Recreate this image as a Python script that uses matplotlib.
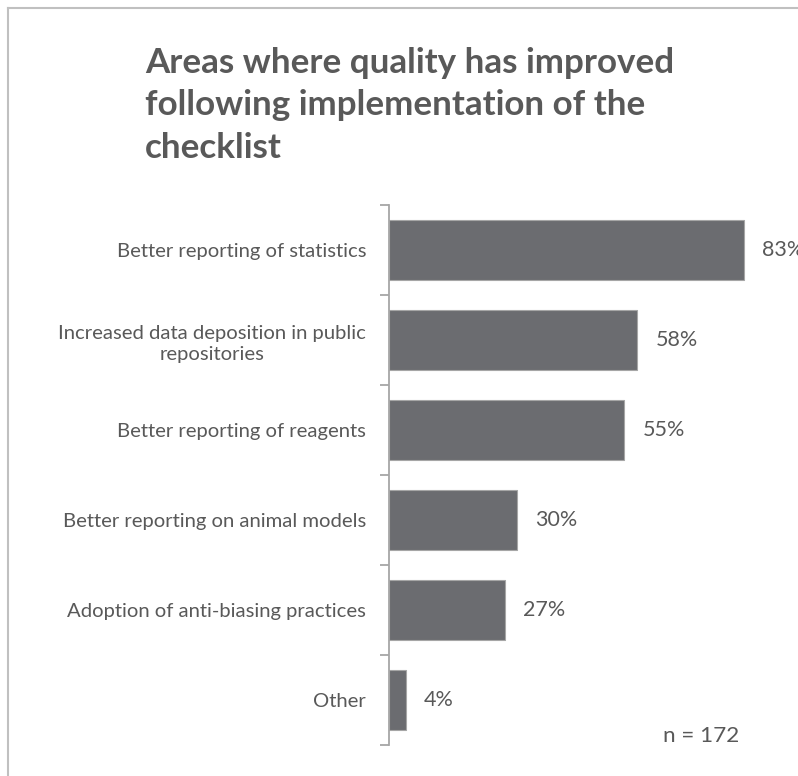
import matplotlib
matplotlib.use('Agg')
import matplotlib.pyplot as plt
from matplotlib.lines import Line2D

# Data
categories = ['Better reporting of statistics',
              'Increased data deposition in public\nrepositories',
              'Better reporting of reagents',
              'Better reporting on animal models',
              'Adoption of anti-biasing practices',
              'Other']
values = [83, 58, 55, 30, 27, 4]
title = 'Areas where quality has improved\nfollowing implementation of the\nchecklist'
note = 'n = 172'

text_color = '#595959'
bar_color = '#6b6c70'
edge_color = '#a6a6a6'
axis_color = '#a6a6a6'

plt.rcParams['font.family'] = ['Lato', 'DejaVu Sans']

W, H = 798, 776
fig = plt.figure(figsize=(W / 100, H / 100), dpi=100)

# Axis area in pixels: left spine at x=389, from y=205 to y=745
ax = fig.add_axes([389 / W, 1 - 745 / H, (W - 389) / W, 540 / H])
ax.set_xlim(0, (W - 389) / 4.28)
n = len(categories)
ax.set_ylim(n - 0.5, -0.5)

pos = list(range(n))
ax.barh(pos, values, height=0.667, color=bar_color, edgecolor=edge_color, linewidth=0.8)

for p, v in zip(pos, values):
    ax.annotate(f'{v}%', (v, p), xytext=(13, 0), textcoords='offset points',
                va='center', ha='left', fontsize=15.5, color=text_color)

# Spines and ticks
for s in ['top', 'right', 'bottom']:
    ax.spines[s].set_visible(False)
ax.spines['left'].set_color(axis_color)
ax.spines['left'].set_linewidth(1.3)
ax.set_xticks([])
ax.set_yticks([i - 0.5 for i in range(n + 1)])
ax.set_yticklabels([])
ax.tick_params(axis='y', which='major', length=6.5, width=1.3, color=axis_color)
ax.set_yticks(pos, minor=True)
ax.set_yticklabels(categories, minor=True, fontsize=14.6, color=text_color,
                   multialignment='center', linespacing=1.3)
ax.tick_params(axis='y', which='minor', length=0, pad=16.5)

ax.text(663 / W, 1 - 736 / H, note, transform=fig.transFigure, fontsize=16.2,
        color=text_color, ha='left', va='center')

# Title
fig.text(145 / W, 1 - 158 / H, title, fontsize=25.2, fontweight='bold', color=text_color,
         ha='left', va='baseline', linespacing=1.41)

# Frame border (left and top only visible)
fig.add_artist(Line2D([7.5 / W, 7.5 / W], [0, 1 - 7.5 / H], transform=fig.transFigure,
                      color='#c0c0c0', linewidth=1.5))
fig.add_artist(Line2D([7.5 / W, 1], [1 - 7.5 / H, 1 - 7.5 / H], transform=fig.transFigure,
                      color='#c0c0c0', linewidth=1.5))

fig.savefig('out.png', dpi=100)
